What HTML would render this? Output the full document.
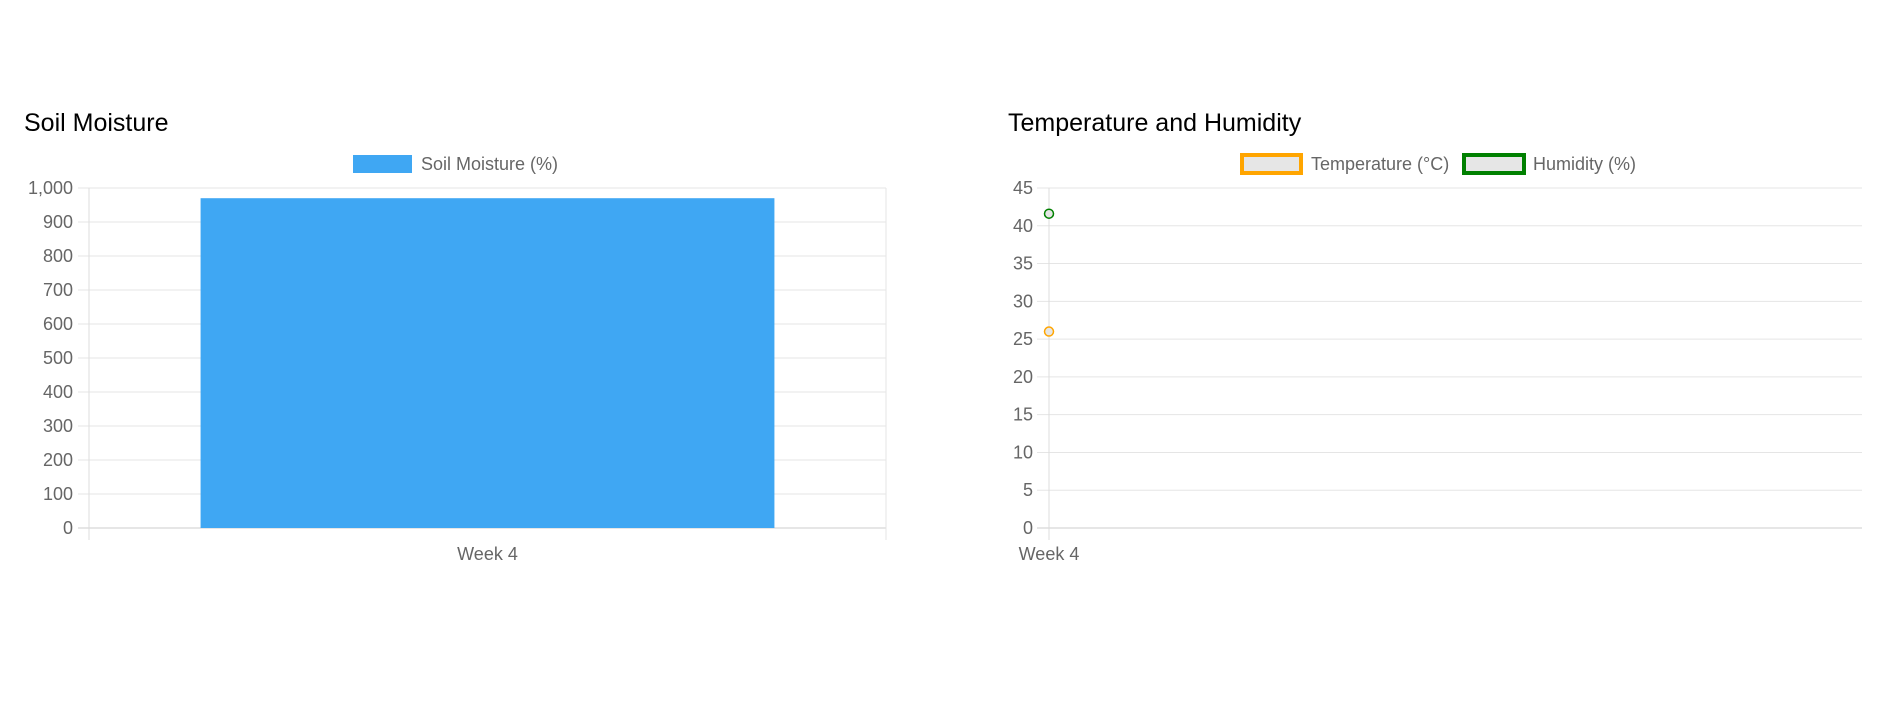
<!DOCTYPE html>
<html><head><meta charset="utf-8"><style>
body{margin:0;background:#fff;width:1891px;height:720px;overflow:hidden;font-family:"Liberation Sans",sans-serif}
svg{position:absolute;left:0;top:0}
</style></head><body>
<svg id="svg" width="1891" height="720">
<text x="24" y="131" font-size="25" fill="#000">Soil Moisture</text>
<text x="1008" y="131" font-size="25" fill="#000">Temperature and Humidity</text>
<g>
<rect x="353" y="155" width="59" height="18" fill="#3fa7f3"/>
<text x="421" y="170" font-size="18" fill="#666">Soil Moisture (%)</text>
</g>
<g>
<rect x="1242" y="155" width="59" height="18" fill="#e6e6e6" stroke="#ffa500" stroke-width="4"/>
<text x="1311" y="170" font-size="18" fill="#666">Temperature (°C)</text>
</g>
<g>
<rect x="1464" y="155" width="60" height="18" fill="#e6e6e6" stroke="#008000" stroke-width="4"/>
<text x="1533" y="170" font-size="18" fill="#666">Humidity (%)</text>
</g>
<g id="c1"></g><g id="c2"></g>
</svg>
<script>
const soilCategories=["Week 4"];
const soilValues=[970];
const soilTicks=[0,100,200,300,400,500,600,700,800,900,1000];
const thCategories=["Week 4"];
const temperatureValues=[26];
const humidityValues=[41.6];
const thTicks=[0,5,10,15,20,25,30,35,40,45];
const NS="http://www.w3.org/2000/svg";
function mk(p,t,a){const e=document.createElementNS(NS,t);for(const k in a)e.setAttribute(k,a[k]);p.appendChild(e);return e;}
// chart 1
const c1=document.getElementById('c1');
const L1=89,R1=886,T=188,B=528;
const y1=v=>B-(v/1000)*(B-T);
soilTicks.forEach(t=>{
 const g=mk(c1,'line',{x1:78,x2:R1,y1:y1(t),y2:y1(t),stroke:t===0?'#ccc':'#e5e5e5','stroke-width':1});
 
 
 const tx=mk(c1,'text',{x:73,y:y1(t)+6,'font-size':18,fill:'#666','text-anchor':'end'});
 tx.textContent=t.toLocaleString('en-US');
 
 
});
let ax=mk(c1,'line',{x1:L1,x2:L1,y1:T,y2:540,stroke:'#ddd'});

ax=mk(c1,'line',{x1:R1,x2:R1,y1:T,y2:540,stroke:'#e5e5e5'});

const bw=(R1-L1)/soilCategories.length;
soilCategories.forEach((c,i)=>{
 const cx=L1+bw*(i+0.5),w=bw*0.72;
 const r=mk(c1,'rect',{x:cx-w/2,y:y1(soilValues[i]),width:w,height:B-y1(soilValues[i]),fill:'#3fa7f3'});
 
 
 const t=mk(c1,'text',{x:cx,y:560,'font-size':18,fill:'#666','text-anchor':'middle'});
 t.textContent=c;
 
 
});
// chart 2
const c2=document.getElementById('c2');
const L2=1049,R2=1862;
const y2=v=>B-(v/45)*(B-T);
thTicks.forEach(t=>{
 const g=mk(c2,'line',{x1:1037,x2:R2,y1:y2(t),y2:y2(t),stroke:t===0?'#ccc':'#e5e5e5','stroke-width':1});
 
 
 const tx=mk(c2,'text',{x:1033,y:y2(t)+6,'font-size':18,fill:'#666','text-anchor':'end'});
 tx.textContent=t;
 
 
});
ax=mk(c2,'line',{x1:L2,x2:L2,y1:T,y2:540,stroke:'#ddd'});

const step=thCategories.length>1?(R2-L2)/(thCategories.length-1):0;
thCategories.forEach((c,i)=>{
 const x=L2+step*i;
 const t=mk(c2,'text',{x:x,y:560,'font-size':18,fill:'#666','text-anchor':'middle'});
 t.textContent=c;
 
 
 let p=mk(c2,'circle',{cx:x,cy:y2(temperatureValues[i]),r:4.5,fill:'#e6e6e6',stroke:'#ffa500','stroke-width':1.5});
 
 
 p=mk(c2,'circle',{cx:x,cy:y2(humidityValues[i]),r:4.5,fill:'#e6e6e6',stroke:'#008000','stroke-width':1.5});
 
 
});
</script>
</body></html>
